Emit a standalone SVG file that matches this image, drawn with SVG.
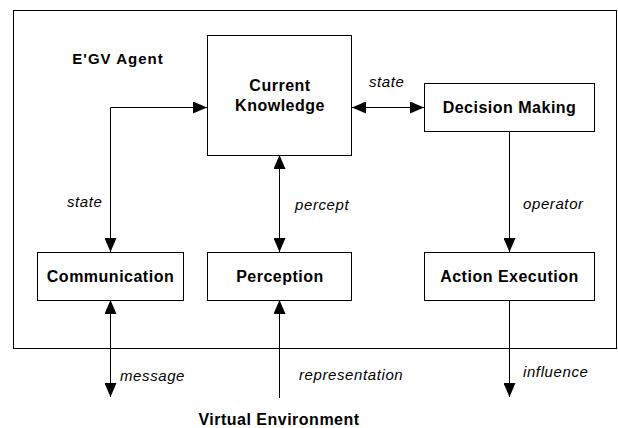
<svg xmlns="http://www.w3.org/2000/svg" width="618" height="428" viewBox="0 0 618 428">
  <style>
    .box { fill: #ffffff; stroke: #000000; stroke-width: 1; }
    .frame { fill: none; stroke: #000000; stroke-width: 1; }
    .edge { fill: none; stroke: #000000; stroke-width: 1; }
    .name { font-family: "Liberation Sans", Arial, sans-serif; font-weight: bold; font-size: 16px; fill: #000000; text-anchor: middle; letter-spacing: 0.5px; }
    .label { font-family: "Liberation Sans", Arial, sans-serif; font-style: italic; font-size: 15px; fill: #000000; letter-spacing: 0.6px; }
  </style>
  <defs>
    <marker id="arrow" viewBox="0 0 14 12" refX="14" refY="6" markerWidth="14" markerHeight="12" markerUnits="userSpaceOnUse" orient="auto-start-reverse">
      <path d="M0,0 L14,6 L0,12 Z" fill="#000000"/>
    </marker>
  </defs>

  <rect x="0" y="0" width="618" height="428" fill="#ffffff"/>

  <!-- agent boundary -->
  <g id="agent">
    <rect class="frame" x="13.5" y="10.5" width="603" height="338"/>
    <text class="name" x="118" y="64" style="font-size:15px; letter-spacing:1px">E'GV Agent</text>
  </g>

  <!-- connectors -->
  <g id="connectors">
    <path class="edge" d="M110.5,252 L110.5,107.5 L207,107.5" marker-start="url(#arrow)" marker-end="url(#arrow)"/>
    <path class="edge" d="M352,107.5 L424,107.5" marker-start="url(#arrow)" marker-end="url(#arrow)"/>
    <path class="edge" d="M279.5,155 L279.5,252" marker-start="url(#arrow)" marker-end="url(#arrow)"/>
    <path class="edge" d="M509.5,131 L509.5,252" marker-end="url(#arrow)"/>
    <path class="edge" d="M110.5,300 L110.5,397" marker-start="url(#arrow)" marker-end="url(#arrow)"/>
    <path class="edge" d="M279.5,398 L279.5,300" marker-end="url(#arrow)"/>
    <path class="edge" d="M509.5,300 L509.5,397" marker-end="url(#arrow)"/>

    <text class="label" x="369" y="87">state</text>
    <text class="label" x="67" y="207">state</text>
    <text class="label" x="295" y="210">percept</text>
    <text class="label" x="523" y="209">operator</text>
    <text class="label" x="120" y="381">message</text>
    <text class="label" x="299" y="380">representation</text>
    <text class="label" x="523" y="377">influence</text>
  </g>

  <g id="current-knowledge">
    <rect class="box" x="207.5" y="35.5" width="144" height="120"/>
    <text class="name" x="280" y="91">Current</text>
    <text class="name" x="280" y="111">Knowledge</text>
  </g>

  <g id="decision-making">
    <rect class="box" x="424.5" y="83.5" width="170" height="48"/>
    <text class="name" x="509.5" y="113">Decision Making</text>
  </g>

  <g id="communication">
    <rect class="box" x="37.5" y="252.5" width="146" height="48"/>
    <text class="name" x="110.5" y="282">Communication</text>
  </g>

  <g id="perception">
    <rect class="box" x="207.5" y="252.5" width="144" height="48"/>
    <text class="name" x="280" y="282">Perception</text>
  </g>

  <g id="action-execution">
    <rect class="box" x="424.5" y="252.5" width="170" height="48"/>
    <text class="name" x="509.5" y="282">Action Execution</text>
  </g>

  <g id="virtual-environment">
    <text class="name" x="279" y="425">Virtual Environment</text>
  </g>
</svg>
